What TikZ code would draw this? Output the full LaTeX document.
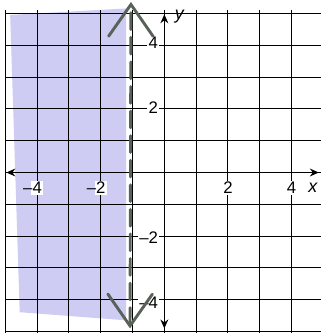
\documentclass[tikz,border=0pt]{standalone}
\usepackage{fontspec}
\newfontfamily\labelfont{Liberation Sans}
\usetikzlibrary{arrows.meta}
\definecolor{shadeblue}{RGB}{206,204,243}
\definecolor{pencil}{RGB}{88,98,88}
\tikzset{
  gridline/.style={black, line width=0.9pt},
  axis/.style={black, line width=1.3pt,
    {Stealth[length=8pt,width=7pt]}-{Stealth[length=8pt,width=7pt]}},
  boundary/.style={pencil, line width=2.6pt, line cap=round,
    dash pattern=on 15pt off 7pt,
    {Straight Barb[length=1cm,width=1.4cm,line cap=round]}-{Straight Barb[length=1cm,width=1.4cm,line cap=round]}},
  ticklabel/.style={font=\labelfont\fontsize{15}{18}\selectfont, inner sep=1pt, fill=white},
  axislabel/.style={font=\labelfont\itshape\fontsize{16}{19}\selectfont, inner sep=1pt}
}
\begin{document}
\begin{tikzpicture}[x=1cm, y=1.022cm]
\useasboundingbox (-5.17,-4.94) rectangle (4.92,5.31);
\clip (-5.17,-4.94) rectangle (4.92,5.31);
% shaded half-plane x < -1
\fill[shadeblue] (-4.85,4.85) -- (-1.2,5.05) -- (-1.2,-4.55) -- (-4.55,-4.3) -- cycle;
% grid
\draw[gridline] (-5,-5.5) grid (5.5,5);
% axes
\coordinate (xl) at (-4.97,0);
\coordinate (xr) at (4.86,0);
\coordinate (yb) at (0,-4.8);
\coordinate (yt) at (0,4.87);
\draw[axis] (xl) -- (xr);
\draw[axis] (yb) -- (yt);
\node[axislabel] (xlab) at (4.67,-0.46) {x};
\node[axislabel] (ylab) at (0.47,4.8) {y};
% tick labels
\foreach \v in {-4,-2} \node[ticklabel] (x\v) at (\v,-0.48) {\llap{\textendash}\the\numexpr-\v\relax};
\foreach \v in {2,4} \node[ticklabel] (x\v) at (\v,-0.48) {\v};
\foreach \v in {-4,-2} \node[ticklabel, anchor=east] (y\v) at (-0.16,\v) {\textendash\the\numexpr-\v\relax};
\foreach \v in {2,4} \node[ticklabel, anchor=east] (y\v) at (-0.16,\v) {\v};
% boundary x = -1
\coordinate (bb) at (-1.08,-4.8);
\coordinate (bt) at (-1.05,5.25);
\draw[boundary] (bb) -- (bt);
\end{tikzpicture}
\end{document}
